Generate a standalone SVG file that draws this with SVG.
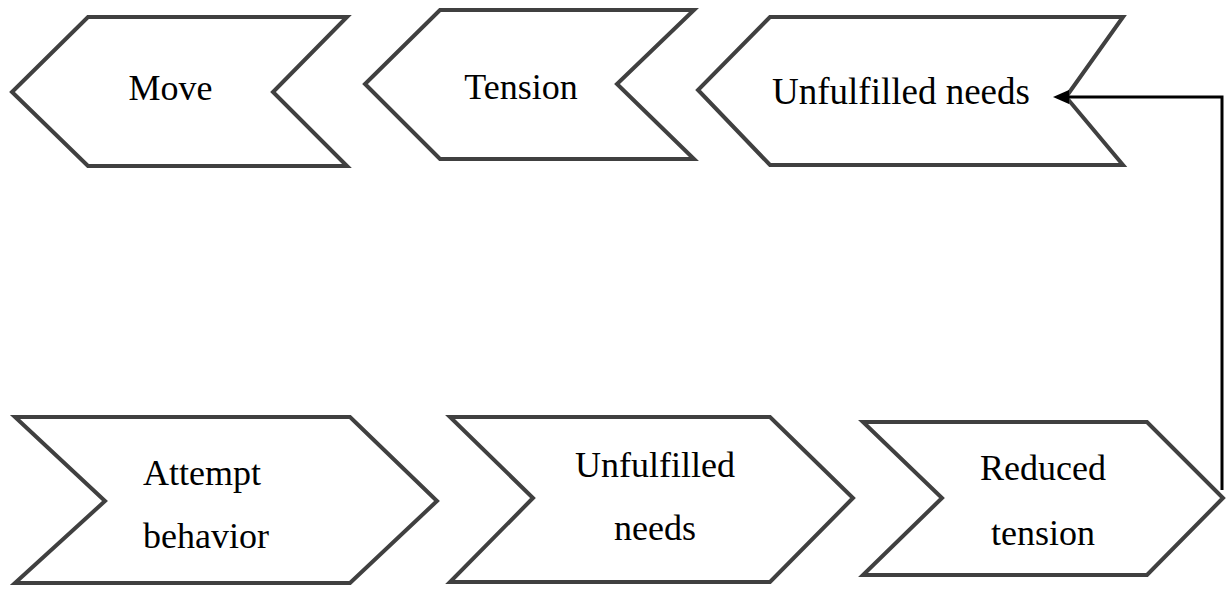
<svg xmlns="http://www.w3.org/2000/svg" width="1227" height="590" viewBox="0 0 1227 590">
<style>
.shape{fill:#ffffff;stroke:#404040;stroke-width:4;stroke-linejoin:miter}
.lbl{font-family:"Liberation Serif","Times New Roman",serif;font-size:36px;fill:#000000}
.mid{text-anchor:middle}
.conn{fill:none;stroke:#000000;stroke-width:3}
</style>
<defs>
<marker id="arr" markerUnits="userSpaceOnUse" markerWidth="16" markerHeight="14" refX="1" refY="7" orient="auto">
<path d="M0,0 L16,7 L0,14 Z" fill="#000000"/>
</marker>
</defs>
<rect width="1227" height="590" fill="#ffffff"/>
<g id="node-move">
<polygon class="shape" points="88,17 347,17 273,92 347,166 88,166 12,92"/>
<text class="lbl mid" x="170.5" y="100">Move</text>
</g>
<g id="node-tension">
<polygon class="shape" points="440,10 694,10 617,84 694,159 440,159 365,84"/>
<text class="lbl mid" x="521" y="99">Tension</text>
</g>
<g id="node-unfulfilled-top">
<polygon class="shape" points="770,17 1123,17 1066,97 1123,165 770,165 698,90"/>
<text class="lbl" x="772" y="104" style="font-size:37px">Unfulfilled needs</text>
</g>
<g id="node-attempt">
<polygon class="shape" points="15,417 350,417 437,501 350,583 15,583 105,501"/>
<text class="lbl" x="143" y="485">Attempt</text>
<text class="lbl" x="143" y="548">behavior</text>
</g>
<g id="node-unfulfilled-bottom">
<polygon class="shape" points="450,417 770,417 853,498 770,582 450,582 533,498"/>
<text class="lbl mid" x="655" y="477">Unfulfilled</text>
<text class="lbl mid" x="655" y="540">needs</text>
</g>
<g id="node-reduced">
<polygon class="shape" points="863,422 1147,422 1223,498 1147,575 863,575 942,498"/>
<text class="lbl mid" x="1043" y="480">Reduced</text>
<text class="lbl mid" x="1043" y="545">tension</text>
</g>
<g id="connectors">
<path class="conn" d="M1222,490 V97 H1068" marker-end="url(#arr)"/>
</g>
</svg>
